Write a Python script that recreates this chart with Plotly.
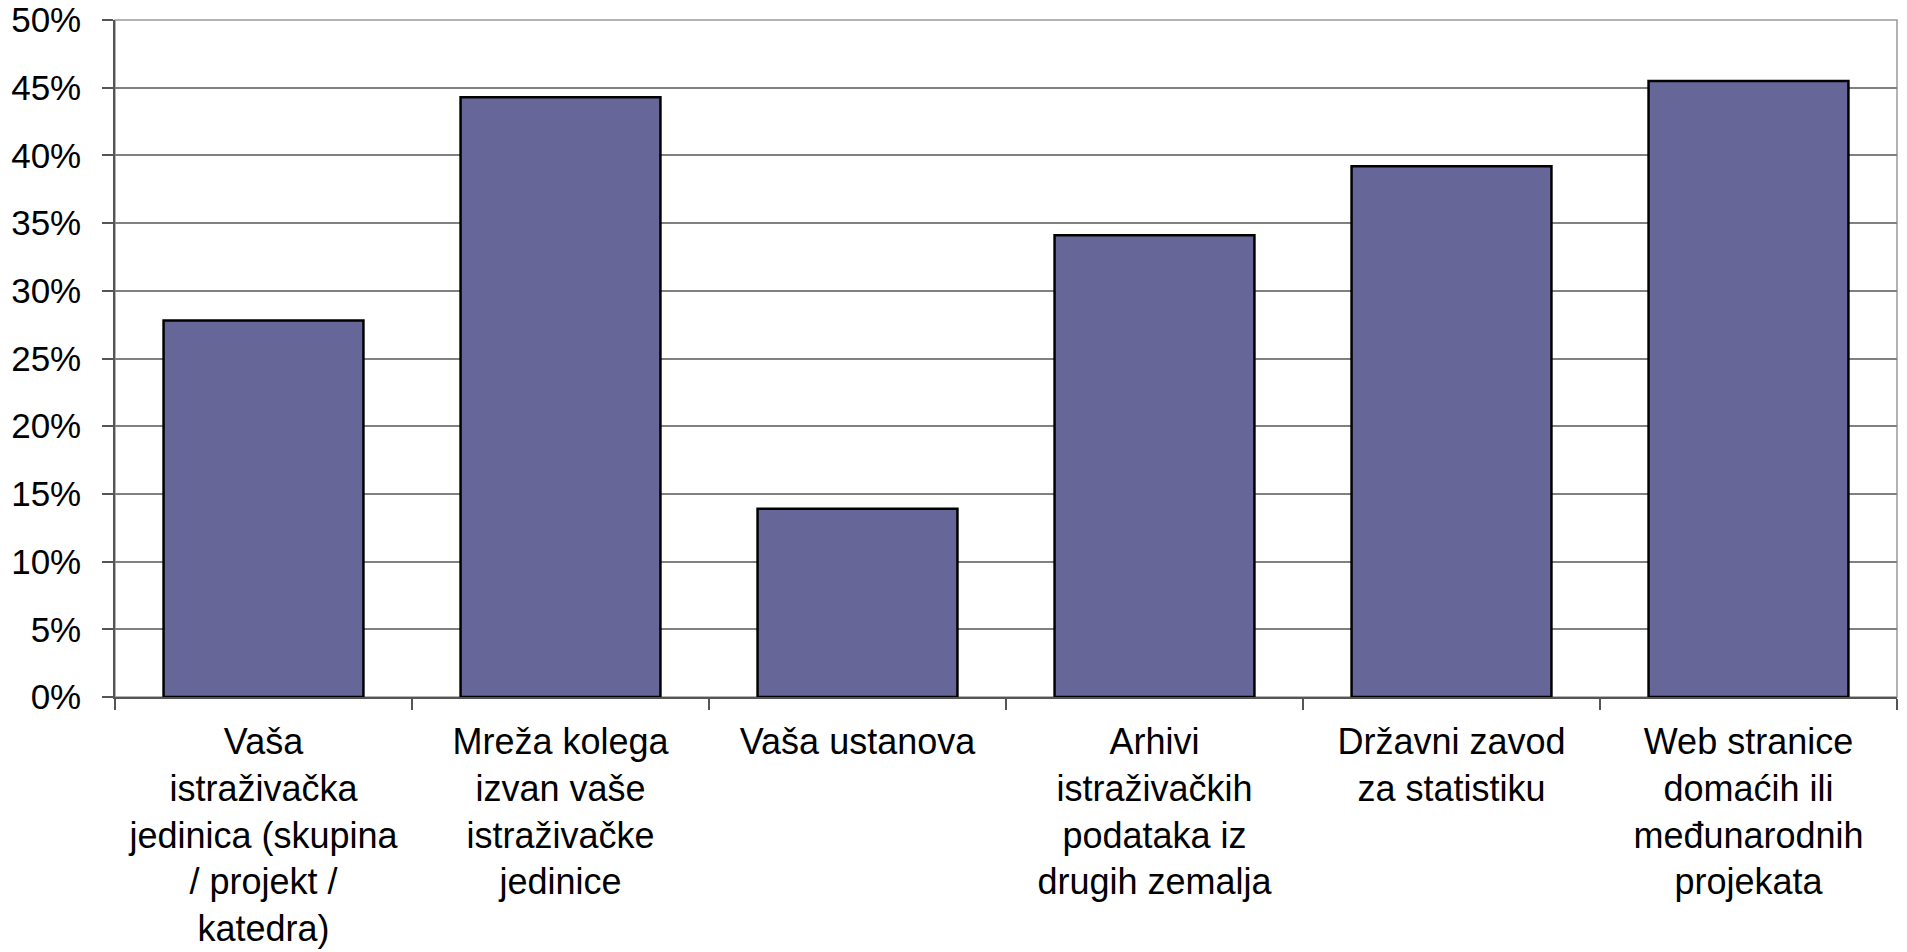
import plotly.graph_objects as go


# categories (line breaks as in the original wrapped labels)
CATEGORIES = [
	'Vaša<br>istraživačka<br>jedinica (skupina<br>/ projekt /<br>katedra)',
	'Mreža kolega<br>izvan vaše<br>istraživačke<br>jedinice',
	'Vaša ustanova',
	'Arhivi<br>istraživačkih<br>podataka iz<br>drugih zemalja',
	'Državni zavod<br>za statistiku',
	'Web stranice<br>domaćih ili<br>međunarodnih<br>projekata',
]
SHARES = [0.278, 0.443, 0.139, 0.341, 0.392, 0.455]

Y_TICKS = [0, 0.05, 0.10, 0.15, 0.20, 0.25, 0.30, 0.35, 0.40, 0.45, 0.50]
Y_TICK_LABELS = ['0%', '5%', '10%', '15%', '20%', '25%', '30%', '35%', '40%', '45%', '50%']

FONT = 'Liberation Sans, Arial, sans-serif'


fig = go.Figure()

fig.add_trace(
	go.Bar(
		x=CATEGORIES,
		y=SHARES,
		marker=dict(
			color='#666699',
			line=dict(color='#000000', width=2.5),
		),
	)
)

# the page body adds an 8px offset, so the figure is a bit smaller than the window
fig.update_layout(
	width=1899,
	height=944,
	margin={ 'l': 107, 'r': 10, 't': 12, 'b': 255, },
	paper_bgcolor='white',
	plot_bgcolor='white',
	bargap=0.327,
	showlegend=False,
	font=dict(family=FONT, size=36, color='black'),
)

fig.update_xaxes(
	automargin=False,
	showline=True,
	linecolor='#555555',
	linewidth=1.5,
	ticks='outside',
	ticklen=11,
	tickwidth=1.5,
	tickcolor='#555555',
	tickson='boundaries',
	showgrid=False,
	tickangle=0,
	tickfont=dict(size=36),
	ticklabelstandoff=12,
	ticklabeloverflow='allow',
)

fig.update_yaxes(
	automargin=False,
	range=[0, 0.5],
	tickvals=Y_TICKS,
	ticktext=Y_TICK_LABELS,
	showline=True,
	linecolor='#555555',
	linewidth=1.5,
	ticks='outside',
	ticklen=11,
	tickwidth=1.5,
	tickcolor='#555555',
	showgrid=True,
	gridcolor='#808080',
	gridwidth=1.5,
	zeroline=False,
	tickfont=dict(size=35),
	ticklabelstandoff=14,
	ticklabeloverflow='allow',
)

# grey frame on the top and right of the plot area
fig.add_shape(
	type='rect', xref='paper', yref='paper',
	x0=0, x1=1, y0=0, y1=1,
	line=dict(color='#9a9a9a', width=1.5),
	layer='below',
)

fig.write_html('out.html')
